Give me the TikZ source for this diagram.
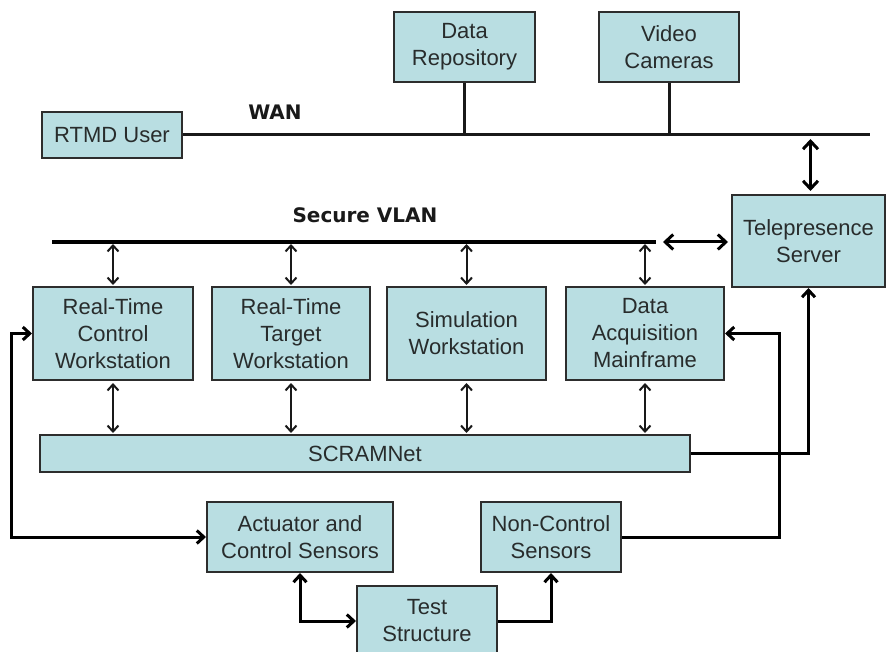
\documentclass[tikz,border=0pt]{standalone}
\usepackage{fontspec}
\setmainfont{Liberation Sans}
\newfontfamily\labelfont{DejaVu Sans}
\usetikzlibrary{positioning, arrows.meta, calc}
\definecolor{boxfill}{RGB}{185,222,226}
\definecolor{boxline}{RGB}{45,45,45}
\definecolor{boxtext}{RGB}{40,44,44}
\tikzset{
    unit/.style={rectangle, draw=boxline, fill=boxfill, line width=2pt, align=center, font=\fontsize{22}{27}\selectfont, text=boxtext, inner sep=0pt},
    buslbl/.style={font=\labelfont\bfseries\fontsize{20}{24}\selectfont, text=black!90},
    wanbus/.style={line width=3pt, draw=black!90},
    vlanbus/.style={line width=4.5pt, draw=black},
    dbl/.style={{Straight Barb[length=6pt,width=11pt]}-{Straight Barb[length=6pt,width=11pt]}, line width=2pt, draw=black!90},
    bigdbl/.style={{Straight Barb[length=8pt,width=15pt]}-{Straight Barb[length=8pt,width=15pt]}, line width=3pt},
    loopdbl/.style={{Straight Barb[length=7pt,width=13pt]}-{Straight Barb[length=7pt,width=13pt]}, line width=3pt},
    looparr/.style={-{Straight Barb[length=7pt,width=13pt]}, line width=3pt}
}
\begin{document}
\begin{tikzpicture}[x=1pt, y=-1pt]
    \clip (0,0) rectangle (888,652);
    % WAN side
    \node[unit, minimum width=141pt, minimum height=70pt] (repo) at (464.5,47) {Data\\Repository};
    \node[unit, minimum width=140pt, minimum height=70pt] (cams) at (669,47) {Video\\Cameras};
    \node[unit, minimum width=140pt, minimum height=46pt] (user) at (112,135) {RTMD User};
    \node[unit, minimum width=153pt, minimum height=92pt] (tele) at (808.5,241) {Telepresence\\Server};
    \coordinate (wanend) at (870,135);
    \draw[wanbus] (user.east) -- (wanend);
    \draw[wanbus] (repo.south) -- (repo.south |- wanend);
    \draw[wanbus] (cams.south) -- (cams.south |- wanend);
    \node[buslbl] (wanlbl) at (275,112) {WAN};
    \draw[bigdbl, shorten <=4pt, shorten >=3pt] ($(tele.north |- wanend)+(2,0)$) -- ($(tele.north)+(2,0)$);
    % lab side
    \node[unit, minimum width=160pt, minimum height=93pt] (rtc) at (113,333.5) {Real-Time\\Control\\Workstation};
    \node[unit, minimum width=158pt, minimum height=93pt] (rtt) at (291,333.5) {Real-Time\\Target\\Workstation};
    \node[unit, minimum width=159pt, minimum height=93pt] (sim) at (466.5,333.5) {Simulation\\Workstation};
    \node[unit, minimum width=158pt, minimum height=93pt] (daq) at (645,333.5) {Data\\Acquisition\\Mainframe};
    \node[unit, minimum width=650pt, minimum height=37pt] (scram) at (365,453.5) {SCRAMNet};
    \coordinate (vlanstart) at (52,242);
    \coordinate (vlanend) at (656,242);
    \draw[vlanbus] (vlanstart) -- (vlanend);
    \node[buslbl] (vlanlbl) at (365,215) {Secure VLAN};
    \draw[bigdbl, shorten <=7pt, shorten >=3pt] (vlanend) -- (tele.west |- vlanend);
    \foreach \ws in {rtc, rtt, sim, daq} {
        \draw[dbl, shorten <=2pt, shorten >=1pt] (\ws.north |- vlanend) -- (\ws.north);
        \draw[dbl, shorten <=2pt, shorten >=1pt] (\ws.south) -- (\ws.south |- scram.north);
    }
    \draw[looparr] (scram.east) -| (tele.south);
    % test side
    \node[unit, minimum width=186pt, minimum height=70pt] (act) at (300,537) {Actuator and\\Control Sensors};
    \node[unit, minimum width=140pt, minimum height=70pt] (ncs) at (551,537) {Non-Control\\Sensors};
    \node[unit, minimum width=140pt, minimum height=70pt] (test) at (427,621) {Test\\Structure};
    \draw[loopdbl] (rtc.west) -- ++(-21,0) |- (act.west);
    \draw[looparr] (ncs.east) -- ++(157,0) |- (daq.east);
    \draw[loopdbl] (act.south) |- (test.west);
    \draw[looparr] (test.east) -| (ncs.south);
\end{tikzpicture}
\end{document}
